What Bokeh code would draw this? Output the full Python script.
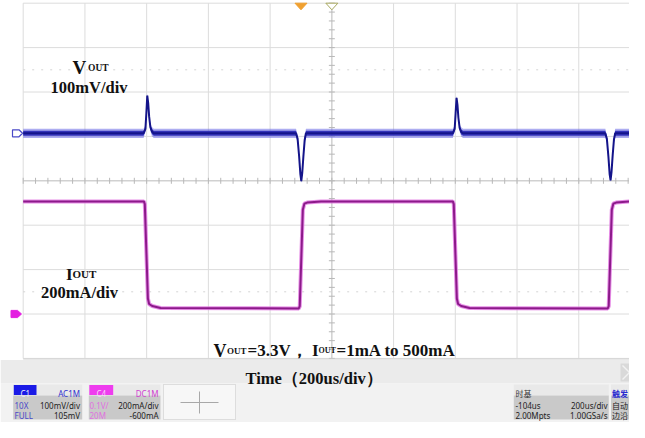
import numpy as np
from bokeh.plotting import figure
from bokeh.models import Range1d
from bokeh.core.properties import value
from bokeh.embed import file_html
from bokeh.resources import INLINE

# ---------------- data ----------------
# load current, mA  (C4, 200 mA/div, offset -600 mA)
t_i_us = [0, 391, 394, 404, 408, 418, 445, 893, 896, 906, 911, 920, 965,
          1392, 1395, 1405, 1409, 1419, 1446, 1894, 1897, 1907, 1912, 1921, 1966, 2000]
i_ma = [507, 507, 495, 70, 45, 36, 27, 25, 35, 470, 497, 502, 507,
        507, 495, 70, 45, 36, 27, 25, 35, 470, 497, 502, 507, 507]

# output voltage deviation, mV  (C1, AC, 100 mV/div)
t_v_us = [0, 390, 396, 399, 402, 405, 408, 412, 417, 423,
          884, 889, 894, 898, 901, 904, 908, 912, 916,
          1392, 1398, 1401, 1404, 1407, 1410, 1414, 1419, 1425,
          1886, 1891, 1896, 1900, 1903, 1906, 1910, 1914, 1918, 2000]
v_mv = [0, 0, 10, 45, 85, 68, 38, 14, 4, 0,
        0, -12, -52, -92, -108, -90, -50, -15, 0,
        0, 10, 45, 80, 64, 35, 12, 3, 0,
        0, -12, -52, -92, -106, -88, -48, -14, 0, 0]
# half thickness of the noise band, mV
v_band_mv = [8, 8, 6, 4, 3, 4, 5, 6, 8, 8,
             8, 6, 4, 3, 3, 3, 4, 6, 8,
             8, 6, 4, 3, 4, 5, 6, 8, 8,
             8, 6, 4, 3, 3, 3, 4, 6, 8, 8]

# scope settings
US_PER_DIV = 200
MV_PER_DIV = 100
MA_PER_DIV = 200
N_HDIV = 10
N_VDIV = 8
C1_OFFSET_DIV = 1.07      # position of 0 mV
C4_OFFSET_DIV = -3.0      # position of 0 mA  (-600 mA offset)
TRIG_T_US = 900
TRIG_LEVEL_MV = -36

# ---------------- geometry of the screen (pixels) ----------------
X0, DX = 22.7, 61.73      # left grid line, pixels per division
Y0, DY = 180.3, 44.4      # centre line, pixels per division
W, H = 629, 422


def t_of(X):
    return (X - X0) / DX * US_PER_DIV


def d_of(Y):
    return (Y0 - Y) / DY


d_lo, d_hi = d_of(H), d_of(0)
p = figure(width=W, height=H, output_backend="svg", toolbar_location=None,
           x_range=Range1d(t_of(0), t_of(W)), y_range=Range1d(d_lo, d_hi),
           x_axis_location=None, y_axis_location=None, min_border=0,
           background_fill_color="white", border_fill_color="white")
p.outline_line_color = None
p.grid.visible = False
p.extra_y_ranges = {
    "mv": Range1d((d_lo - C1_OFFSET_DIV) * MV_PER_DIV, (d_hi - C1_OFFSET_DIV) * MV_PER_DIV),
    "ma": Range1d((d_lo - C4_OFFSET_DIV) * MA_PER_DIV, (d_hi - C4_OFFSET_DIV) * MA_PER_DIV),
    "py": Range1d(H, 0),
}
p.extra_x_ranges = {"px": Range1d(0, W)}

# ---------------- graticule ----------------
T_END = N_HDIV * US_PER_DIV
vx = np.arange(0, T_END + 1, US_PER_DIV)
hy = np.arange(-N_VDIV // 2, N_VDIV // 2 + 1, 1)
GRID = "#dcdcdc"
p.segment(x0=vx, y0=-4, x1=vx, y1=4, line_color=GRID, line_width=1)
p.segment(x0=0, y0=hy, x1=T_END, y1=hy, line_color=GRID, line_width=1)
p.segment(x0=0, y0=[-2.5, 2.5], x1=T_END, y1=[-2.5, 2.5], line_color="#d4d4d4",
          line_width=1, line_dash="2 7")
# centre cross with minor ticks
p.segment(x0=T_END / 2, y0=-4, x1=T_END / 2, y1=4, line_color="#c8c8c8", line_width=1)
p.segment(x0=0, y0=0, x1=T_END, y1=0, line_color="#c8c8c8", line_width=1)
mt = np.arange(0, T_END + 1, US_PER_DIV / 5)
md = np.arange(-4, 4.01, 0.2)
tick_t = 3 / DX * US_PER_DIV
p.segment(x0=mt, y0=-3 / DY, x1=mt, y1=3 / DY, line_color="#b8b8b8", line_width=1)
p.segment(x0=T_END / 2 - tick_t, y0=md, x1=T_END / 2 + tick_t, y1=md,
          line_color="#b8b8b8", line_width=1)

# ---------------- traces ----------------
tv = np.array(t_v_us, float)
vv = np.array(v_mv, float)
bb = np.array(v_band_mv, float)
p.varea(x=tv, y1=vv - bb * 1.3, y2=vv + bb * 1.3, fill_color="#6a6ae6", fill_alpha=0.55,
        y_range_name="mv")
p.varea(x=tv, y1=vv - bb * 0.7, y2=vv + bb * 0.7, fill_color="#2626b4", fill_alpha=0.9,
        y_range_name="mv")
p.line(tv, vv, line_color="#14148a", line_width=2, y_range_name="mv")

p.line(t_i_us, i_ma, line_color="#e070e0", line_width=4, line_alpha=0.8, y_range_name="ma")
p.line(t_i_us, i_ma, line_color="#8c1a8a", line_width=2, y_range_name="ma")

# ---------------- channel / trigger markers ----------------
mv_per_px = MV_PER_DIV / DY
ma_per_px = MA_PER_DIV / DY
p.patch(x=[12, 18.5, 22, 18.5, 12], y=[3.5 * mv_per_px, 3.5 * mv_per_px, 0, -3.5 * mv_per_px, -3.5 * mv_per_px],
        x_range_name="px", y_range_name="mv", fill_color="white", line_color="#4a4ac8", line_width=1.2)
p.patch(x=[10.5, 17, 21, 17, 10.5], y=[3.6 * ma_per_px, 3.6 * ma_per_px, 0, -3.6 * ma_per_px, -3.6 * ma_per_px],
        x_range_name="px", y_range_name="ma", fill_color="#e31ee0", line_color="#e31ee0")
p.patch(x=[635, 642, 642], y=[TRIG_LEVEL_MV, TRIG_LEVEL_MV + 6 * mv_per_px, TRIG_LEVEL_MV - 6 * mv_per_px],
        x_range_name="px", y_range_name="mv", fill_color="#2a2ae0", line_color="#2a2ae0")
tw = 6 / DX * US_PER_DIV
p.patch(x=[TRIG_T_US - tw, TRIG_T_US + tw, TRIG_T_US], y=[2.7, 2.7, 9.3], y_range_name="py",
        fill_color="#f0a030", line_color="#f0a030")
p.patch(x=[T_END / 2 - tw, T_END / 2 + tw, T_END / 2], y=[2.7, 2.7, 9.3], y_range_name="py",
        fill_color="white", line_color="#a8a860")

# ---------------- annotation labels ----------------
SERIF = value("Liberation Serif")


def lab(x, y, s, size, align="left", color="#111111", style="bold", font=SERIF):
    p.text(x=[x], y=[y], text=[s], x_range_name="px", y_range_name="py", text_font=font,
           text_font_style=style, text_font_size=size, text_align=align,
           text_baseline="alphabetic", text_color=color)


lab(72, 67, "V", "19px")
lab(87.5, 67, "OUT", "9.5px")
lab(50, 87, "100mV/div", "16.5px")
lab(65.5, 273.5, "I", "17px")
lab(72, 273.5, "OUT", "11px")
lab(40.5, 292, "200mA/div", "16.5px")
lab(213, 350, "V", "18px")
lab(226.5, 350, "OUT", "9px")
lab(247, 350, "=3.3V，", "17px")
lab(311.5, 350, "I", "17px")
lab(318, 350, "OUT", "8px")
lab(336, 350, "=1mA to 500mA", "17px")

# ---------------- bottom information panel ----------------
p.quad(left=0, right=W, top=359.5, bottom=383, x_range_name="px", y_range_name="py",
       fill_color="#ebebeb", line_color=None)
p.quad(left=0, right=W, top=383, bottom=H, x_range_name="px", y_range_name="py",
       fill_color="#f2f2f2", line_color=None)
p.segment(x0=22.7, y0=358.5, x1=W, y1=358.5, x_range_name="px", y_range_name="py",
          line_color="#d0d0d0", line_width=1)
lab(245, 377.5, "Time（200us/div）", "16.5px")
p.quad(left=620, right=638, top=363, bottom=381, x_range_name="px", y_range_name="py",
       fill_color="#d9d9d9", line_color=None)
p.segment(x0=[622, 622], y0=[365, 379], x1=[636, 636], y1=[379, 365], x_range_name="px",
          y_range_name="py", line_color="#f2f2f2", line_width=1.5)

SANS = value("Noto Sans, Noto Sans CJK SC")
FS = "8px"
R1, R2, R3 = 392.5, 404.5, 415   # text baselines of the three rows
box_left = [12.7, 88.3, 513.3, 610.5]
box_right = [81.7, 160, 608.3, W]
p.quad(left=box_left, right=box_right, top=384, bottom=395, x_range_name="px",
       y_range_name="py", fill_color="#e9e9e9", line_color=None)
p.quad(left=box_left, right=box_right, top=395, bottom=419, x_range_name="px",
       y_range_name="py", fill_color="#c9c9c9", line_color=None)
p.quad(left=[13.3, 88.8], right=[36, 112.7], top=384.5, bottom=394.5, x_range_name="px",
       y_range_name="py", fill_color=["#1a1ae6", "#ee3cee"], line_color=None)
# empty slot with a plus sign
p.quad(left=163, right=235, top=384, bottom=419, x_range_name="px", y_range_name="py",
       fill_color="#f7f7f7", line_color="#c4c4c4", line_dash="1 1")
p.segment(x0=[180, 199], y0=[402, 391], x1=[218, 199], y1=[402, 413], x_range_name="px",
          y_range_name="py", line_color="#a8a8a8", line_width=1)

lab(24.7, R1, "C1", FS, align="center", color="#e8e8ff", style="normal", font=SANS)
lab(79.5, R1, "AC1M", FS, align="right", color="#3030d0", style="normal", font=SANS)
lab(14, R2, "10X", FS, color="#4848c8", style="normal", font=SANS)
lab(79.5, R2, "100mV/div", FS, align="right", color="#222222", style="normal", font=SANS)
lab(14, R3, "FULL", FS, color="#4848c8", style="normal", font=SANS)
lab(79.5, R3, "105mV", FS, align="right", color="#222222", style="normal", font=SANS)

lab(100.7, R1, "C4", FS, align="center", color="#fbd0fb", style="normal", font=SANS)
lab(158, R1, "DC1M", FS, align="right", color="#d040d0", style="normal", font=SANS)
lab(89, R2, "0.1V/", FS, color="#e070e0", style="normal", font=SANS)
lab(158, R2, "200mA/div", FS, align="right", color="#222222", style="normal", font=SANS)
lab(89, R3, "20M", FS, color="#e070e0", style="normal", font=SANS)
lab(158, R3, "-600mA", FS, align="right", color="#222222", style="normal", font=SANS)

lab(515, R1, "时基", FS, color="#333333", style="normal", font=SANS)
lab(515, R2, "-104us", FS, color="#222222", style="normal", font=SANS)
lab(607, R2, "200us/div", FS, align="right", color="#222222", style="normal", font=SANS)
lab(515, R3, "2.00Mpts", FS, color="#222222", style="normal", font=SANS)
lab(607, R3, "1.00GSa/s", FS, align="right", color="#222222", style="normal", font=SANS)

lab(611.5, R1, "触发", FS, color="#2a2ad0", style="bold", font=SANS)
lab(611.5, R2, "自动", FS, color="#222222", style="normal", font=SANS)
lab(611.5, R3, "边沿", FS, color="#222222", style="normal", font=SANS)

open("out.html", "w").write(file_html(p, INLINE))
